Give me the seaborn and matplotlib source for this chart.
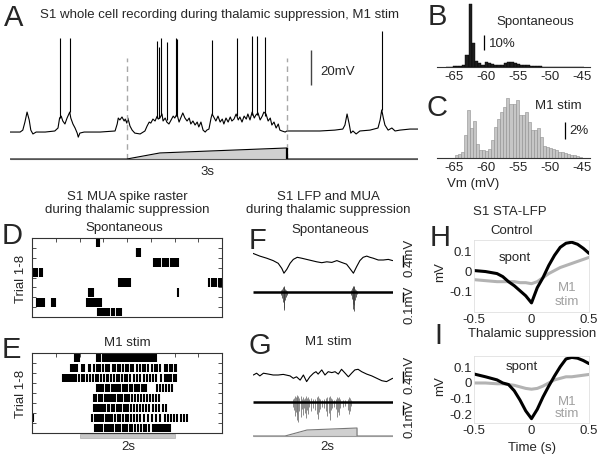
import numpy as np
import pandas as pd
import matplotlib
matplotlib.use("Agg")
import matplotlib.pyplot as plt
import seaborn as sns

# ---------------- DATA ----------------
# Panel A: whole-cell membrane potential (time in s, Vm in mV)
a_time = [0.00, 0.19, 0.24, 0.28, 0.32, 0.36, 0.39, 0.43, 0.49, 0.66,
          0.84, 0.90, 0.93, 0.96, 0.99, 1.03, 1.07, 1.12, 1.14, 1.18,
          1.22, 1.26, 1.28, 1.31, 1.39, 1.69, 1.97, 2.01, 2.03, 2.06,
          2.10, 2.14, 2.16, 2.19, 2.21, 2.25, 2.29, 2.34, 2.44, 2.53,
          2.57, 2.61, 2.64, 2.68, 2.72, 2.76, 2.78, 2.81, 2.85, 2.87,
          2.91, 2.94, 2.98, 3.02, 3.06, 3.09, 3.13, 3.17, 3.21, 3.24,
          3.28, 3.32, 3.36, 3.39, 3.43, 3.47, 3.51, 3.54, 3.58, 3.62,
          3.66, 3.69, 3.73, 3.77, 3.79, 3.83, 3.86, 3.90, 3.94, 3.98,
          4.01, 4.05, 4.09, 4.13, 4.16, 4.20, 4.24, 4.28, 4.31, 4.35,
          4.39, 4.43, 4.46, 4.50, 4.54, 4.58, 4.61, 4.65, 4.69, 4.73,
          4.76, 4.80, 4.84, 4.88, 4.91, 4.95, 4.99, 5.03, 5.06, 5.10,
          5.16, 5.19,
          5.44, 5.81, 6.09, 6.24, 6.28, 6.32, 6.36, 6.39, 6.43, 6.49,
          6.56, 6.75, 6.90, 6.94, 6.97, 7.00, 7.03, 7.09, 7.16, 7.22,
          7.31, 7.50, 7.65]
a_vm = [-65.0, -65.0, -63.9, -59.3, -53.6, -58.1, -63.9, -66.1, -65.0, -65.0,
        -64.4, -62.7, -57.0, -55.9, -58.7, -60.4, -57.0, -53.6, -57.0, -60.4,
        -62.7, -65.6, -67.9, -65.6, -65.0, -65.0, -64.4, -60.4, -57.0, -58.1,
        -56.4, -58.7, -57.6, -59.9, -57.0, -61.6, -63.9, -65.6, -66.1, -64.4,
        -61.6, -59.3, -59.9, -57.6, -58.7, -55.9, -57.6, -57.0, -54.7, -58.7,
        -57.0, -59.3, -60.4, -58.1, -55.9, -57.0, -54.7, -59.3, -56.4, -54.1,
        -57.0, -58.7, -57.0, -60.4, -58.7, -61.0, -59.3, -62.1, -59.3, -63.9,
        -65.0, -63.9, -63.3, -57.0, -54.7, -57.0, -58.7, -55.9, -59.3, -57.6,
        -60.4, -57.0, -59.3, -56.4, -58.7, -57.6, -54.7, -58.1, -56.4, -59.3,
        -55.9, -57.6, -54.7, -58.1, -53.6, -57.0, -55.3, -54.1, -58.1, -55.9,
        -53.6, -54.7, -58.7, -57.0, -61.0, -59.3, -62.7, -60.4, -63.9, -64.4,
        -65.0, -64.4,
        -64.4, -64.4, -63.9, -63.3, -61.0, -54.7, -60.4, -65.6, -64.4, -66.1,
        -64.4, -63.9, -62.7, -58.1, -52.4, -57.0, -61.0, -63.9, -62.7, -64.4,
        -63.9, -63.3, -63.3]
spike_time = [0.93, 1.12, 2.75, 2.80, 2.84, 2.95, 3.11, 3.14, 3.79, 4.25, 4.53, 4.64, 4.78, 6.97]
spike_base = [-57.0, -53.6, -57.0, -57.0, -55.0, -58.0, -56.0, -56.0, -54.7, -56.0, -55.0, -55.0, -56.0, -52.4]
spike_peak = [-11.3, -11.3, -13.0, -16.5, -11.3, -13.6, -11.3, -11.9, -12.5, -11.3, -10.2, -10.2, -10.7, -7.3]
a_stim_time = [0.0, 2.19, 2.81, 5.19, 5.19, 7.65]
a_stim_level = [0.0, 0.0, 0.55, 1.0, 0.0, 0.0]
a_stim_edges = [2.19, 5.19]

# Panel B/C: Vm distributions (% of time)
b_percent = [0.0, 0.3, 0.4, 0.5, 0.8, 1.5, 8.0, 42.0, 16.0, 4.0,
             2.5, 1.5, 3.0, 2.5, 2.0, 1.5, 1.2, 1.5, 2.5, 3.0,
             3.0, 2.5, 2.0, 1.5, 1.2, 1.0, 0.8, 0.6, 0.5, 0.4,
             0.3, 0.2, 0.2, 0.2, 0.1, 0.1, 0.1, 0.1, 0.1, 0.1,
             0.1, 0.1, 0.1]
c_percent = [0.3, 0.5, 0.7, 2.7, 5.6, 3.5, 4.4, 1.7, 0.9, 0.9,
             0.8, 1.1, 2.1, 3.6, 4.6, 5.4, 6.0, 7.1, 6.4, 6.4,
             6.8, 5.0, 5.1, 5.4, 4.2, 3.3, 3.3, 3.5, 2.5, 1.4,
             1.3, 1.2, 1.1, 0.9, 0.7, 0.7, 0.6, 0.5, 0.4, 0.3,
             0.25, 0.15]
vm_ticks = [-65, -60, -55, -50, -45]

# Panel D/E: MUA spike raster (s), one list per trial
d_trials = [
    [1.36, 1.38, 1.40],
    [2.20, 2.22, 2.25, 2.27],
    [2.56, 2.60, 2.65, 2.69, 2.75, 2.78, 2.82, 2.86, 2.92, 2.96, 3.00, 3.04, 3.07],
    [0.02, 0.06, 0.11, 0.16, 0.21],
    [1.84, 1.87, 1.90, 1.93, 1.95, 1.97, 2.00, 2.03, 2.06, 3.73, 3.78, 3.83, 3.88, 3.93, 3.97],
    [1.19, 1.22, 1.25, 1.28, 3.08],
    [0.10, 0.13, 0.16, 0.19, 0.22, 0.25, 0.42, 0.45, 0.48, 1.16, 1.19, 1.23, 1.27,
     1.30, 1.34, 1.38, 1.42, 1.46],
    [1.38, 1.41, 1.44, 1.47, 1.50, 1.53, 1.58, 1.63, 1.68, 1.73, 1.78, 1.83, 1.87],
]
e_trials = [
    [0.91, 0.95, 0.99, 1.36, 1.38, 1.41, 1.44, 1.49, 1.53, 1.56, 1.60, 1.64, 1.68, 1.71,
     1.75, 1.79, 1.83, 1.87, 1.92, 1.96, 2.00, 2.04, 2.08, 2.12, 2.16, 2.20, 2.24, 2.28,
     2.32, 2.36, 2.40, 2.44, 2.48, 2.52, 2.56, 2.60],
    [0.82, 0.86, 0.90, 0.95, 1.06, 1.10, 1.19, 1.23, 1.30, 1.37, 1.40, 1.44, 1.50, 1.55,
     1.58, 1.63, 1.70, 1.74, 1.81, 1.85, 1.91, 1.97, 2.02, 2.09, 2.13, 2.20, 2.27, 2.33,
     2.38, 2.45, 2.52, 2.58, 2.64, 2.70, 2.80, 2.85, 2.90, 2.95, 3.01, 3.04],
    [0.66, 0.70, 0.74, 0.78, 0.81, 0.85, 0.88, 0.93, 0.99, 1.05, 1.10, 1.15, 1.22, 1.29,
     1.35, 1.39, 1.45, 1.52, 1.57, 1.61, 1.66, 1.72, 1.78, 1.84, 1.90, 1.95, 2.01, 2.07,
     2.14, 2.20, 2.28, 2.35, 2.42, 2.48, 2.55, 2.62, 2.72, 2.80, 2.84, 2.88, 2.93, 2.98, 3.03],
    [1.36, 1.39, 1.42, 1.46, 1.50, 1.55, 1.59, 1.63, 1.68, 1.72, 1.77, 1.82, 1.86, 1.91,
     1.96, 2.01, 2.06, 2.11, 2.16, 2.21, 2.26, 2.31, 2.36, 2.41, 2.63, 2.70, 2.76, 2.82,
     2.88, 2.94],
    [1.31, 1.35, 1.40, 1.44, 1.48, 1.53, 1.57, 1.62, 1.66, 1.71, 1.75, 1.80, 1.85, 1.90,
     1.95, 2.00, 2.05, 2.11, 2.17, 2.23, 2.29, 2.35, 2.42, 2.48, 2.55, 2.62, 2.68],
    [1.31, 1.35, 1.38, 1.42, 1.46, 1.50, 1.54, 1.59, 1.63, 1.68, 1.73, 1.78, 1.83, 1.88,
     1.93, 1.98, 2.03, 2.09, 2.15, 2.21, 2.27, 2.33, 2.40, 2.47, 2.54, 2.61, 2.68, 2.75, 2.82],
    [0.03, 1.27, 1.32, 1.36, 1.40, 1.45, 1.50, 1.55, 1.59, 1.64, 1.69, 1.74, 1.80, 1.85,
     1.91, 1.97, 2.03, 2.09, 2.15, 2.22, 2.28, 2.36, 2.44, 2.52, 2.60, 2.70, 2.80, 2.87,
     2.93, 2.99, 3.05, 3.13, 3.21, 3.26],
    [1.32, 1.36, 1.40, 1.44, 1.48, 1.53, 1.57, 1.62, 1.67, 1.71, 1.76, 1.81, 1.86, 1.91,
     1.96, 2.01, 2.06, 2.11, 2.17, 2.23, 2.29, 2.35, 2.41, 2.47, 2.55, 2.58, 2.61, 2.64,
     2.67, 2.70, 2.73, 2.76, 2.79, 2.82, 2.86, 2.91],
]
e_stim = [1.0, 3.0]

# Panel F/G: LFP (mV) and MUA (mV)
f_lfp_time = [0.0, 0.19, 0.38, 0.56, 0.70, 0.80, 0.86, 0.94, 1.03, 1.12,
              1.23, 1.35, 1.49, 1.63, 1.77, 1.91, 2.05, 2.19, 2.33, 2.46,
              2.60, 2.69, 2.79, 2.88, 2.97, 3.06, 3.16, 3.25, 3.34, 3.48,
              3.62, 3.76, 3.88]
f_lfp_mv = [0.22, 0.13, 0.06, -0.02, -0.11, -0.28, -0.44, -0.31, -0.11, 0.02,
            0.09, 0.06, 0.02, -0.02, -0.06, -0.09, -0.06, -0.08, -0.02, -0.08,
            -0.14, -0.28, -0.44, -0.22, -0.02, 0.09, 0.13, 0.09, 0.06, 0.0,
            0.0, 0.02, -0.02]
f_mua_time = [0.78, 0.81, 0.83, 0.85, 0.86, 0.87, 0.89, 0.91, 0.94,
              2.72, 2.75, 2.77, 2.79, 2.80, 2.81, 2.83, 2.85, 2.88]
f_mua_low = [-0.03, -0.06, -0.10, -0.16, -0.18, -0.12, -0.08, -0.05, -0.03,
             -0.03, -0.07, -0.12, -0.17, -0.19, -0.13, -0.08, -0.05, -0.02]
f_mua_high = [0.02, 0.03, 0.05, 0.06, 0.05, 0.04, 0.03, 0.02, 0.01,
              0.02, 0.04, 0.05, 0.06, 0.06, 0.05, 0.03, 0.02, 0.01]
g_lfp_time = [0.01, 0.10, 0.19, 0.29, 0.43, 0.56, 0.70, 0.84, 1.03, 1.12,
              1.21, 1.31, 1.40, 1.49, 1.58, 1.68, 1.75, 1.81, 1.91, 2.00,
              2.09, 2.19, 2.28, 2.37, 2.46, 2.56, 2.65, 2.74, 2.83, 2.92,
              3.02, 3.16, 3.30, 3.44, 3.58, 3.71, 3.88]
g_lfp_mv = [0.0, 0.06, -0.03, 0.06, 0.03, 0.0, 0.0, 0.02, -0.03, -0.11,
            -0.06, -0.17, 0.0, -0.22, -0.06, 0.06, 0.11, 0.03, 0.17, 0.0,
            0.11, 0.08, 0.11, 0.03, 0.19, 0.06, -0.06, 0.06, 0.17, 0.19,
            0.11, 0.03, -0.03, -0.11, -0.19, -0.22, -0.11]
g_mua_time = [1.10, 1.14, 1.17, 1.19, 1.21, 1.23, 1.26, 1.29, 1.32, 1.35,
              1.38, 1.41, 1.44, 1.47, 1.50, 1.53, 1.56, 1.60, 1.66, 1.72,
              1.77, 1.80, 1.83, 1.86, 1.92, 1.98, 2.04, 2.07, 2.10, 2.13,
              2.16, 2.19, 2.25, 2.31, 2.34, 2.37, 2.40, 2.43, 2.50, 2.57,
              2.63, 2.66, 2.69, 2.72]
g_mua_low = [-0.05, -0.08, -0.14, -0.10, -0.18, -0.12, -0.20, -0.09, -0.15, -0.07,
             -0.13, -0.06, -0.11, -0.16, -0.08, -0.12, -0.05, -0.09, -0.06, -0.08,
             -0.12, -0.17, -0.10, -0.07, -0.05, -0.06, -0.09, -0.14, -0.11, -0.18,
             -0.08, -0.06, -0.05, -0.07, -0.15, -0.10, -0.13, -0.06, -0.05, -0.04,
             -0.08, -0.12, -0.09, -0.04]
g_mua_high = [0.03, 0.04, 0.06, 0.05, 0.07, 0.05, 0.06, 0.04, 0.06, 0.03,
              0.05, 0.03, 0.04, 0.06, 0.04, 0.05, 0.03, 0.04, 0.03, 0.03,
              0.05, 0.06, 0.04, 0.03, 0.02, 0.03, 0.04, 0.05, 0.05, 0.06,
              0.04, 0.03, 0.02, 0.03, 0.05, 0.04, 0.05, 0.03, 0.02, 0.02,
              0.03, 0.05, 0.04, 0.02]
g_stim_time = [0.0, 0.89, 1.5, 2.89, 2.89, 3.89]
g_stim_level = [0.0, 0.0, 0.75, 1.0, 0.0, 0.0]

# Panel H/I: spike-triggered average LFP (mV)
sta_time = [-0.5, -0.4, -0.3, -0.25, -0.2, -0.15, -0.1, -0.05, 0.0, 0.05,
            0.1, 0.15, 0.2, 0.25, 0.3, 0.35, 0.4, 0.45, 0.5]
h_spont = [0.005, 0.0, -0.01, -0.025, -0.05, -0.07, -0.095, -0.12, -0.155, -0.08,
           -0.03, 0.03, 0.08, 0.12, 0.14, 0.145, 0.135, 0.115, 0.09]
h_m1 = [-0.04, -0.045, -0.05, -0.05, -0.05, -0.05, -0.055, -0.055, -0.06, -0.05,
        -0.03, -0.01, 0.005, 0.02, 0.03, 0.04, 0.05, 0.06, 0.07]
i_spont = [0.058, 0.04, 0.02, 0.0, -0.01, -0.05, -0.11, -0.18, -0.23, -0.17,
           -0.09, -0.02, 0.045, 0.105, 0.155, 0.165, 0.16, 0.145, 0.125]
i_m1 = [0.0, 0.0, -0.005, -0.005, -0.01, -0.015, -0.025, -0.035, -0.04, -0.035,
        -0.02, 0.0, 0.02, 0.03, 0.04, 0.04, 0.045, 0.05, 0.055]

# ---------------- STYLE / LAYOUT ----------------
sns.set_theme(style="white")
plt.rcParams["font.family"] = ["Liberation Sans", "DejaVu Sans"]
plt.rcParams["axes.unicode_minus"] = False

W, H = 600, 458
fig = plt.figure(figsize=(6.0, 4.58), dpi=100)
FS = 9.5
LET = 21
GREY = "#b3b3b3"


def rect(x0, y0, x1, y1):
    return [x0 / W, 1 - y1 / H, (x1 - x0) / W, (y1 - y0) / H]


def ftext(x, y, s, size=FS, ha="center", va="center", **kw):
    fig.text(x / W, 1 - y / H, s, fontsize=size, ha=ha, va=va, **kw)


def letter(x, y, s):
    ftext(x, y, s, size=LET, ha="left", va="top")


# ---------- Panel A ----------
axA = fig.add_axes(rect(10, 28, 418, 145))
sns.lineplot(x=a_time, y=a_vm, ax=axA, color="black", lw=0.8,
             estimator=None, sort=False)
axA.vlines(spike_time, spike_base, spike_peak, color="black", lw=0.8)
axA.vlines(a_stim_edges, -80.4, -22.7, colors="#a8a8a8", linestyles=(0, (4, 3)),
           lw=1.0, clip_on=False)
axA.vlines([5.64], -38, -18, color="#444444", lw=1.0)
axA.text(5.81, -30.5, "20mV", fontsize=FS, ha="left", va="center")
axA.set_xlim(0, 7.65)
axA.set_ylim(-72.4, -5.6)
axA.axis("off")

axAs = fig.add_axes(rect(10, 145, 418, 162))
axAs.fill_between(a_stim_time, 0, a_stim_level, color="#d0d0d0", lw=0)
sns.lineplot(x=a_stim_time, y=a_stim_level, ax=axAs, color="black", lw=0.8,
             estimator=None, sort=False)
axAs.vlines([a_stim_edges[1]], 0, 1.0, color="black", lw=1.6)
axAs.hlines(0, 0, 7.65, color="#555555", lw=0.8)
axAs.set_xlim(0, 7.65)
axAs.set_ylim(-0.27, 1.27)
axAs.axis("off")

letter(4, 4, "A")
ftext(40, 15, "S1 whole cell recording during thalamic suppression, M1 stim", ha="left")
ftext(207, 172, "3s")

# ---------- Panels B / C ----------
def vm_axis(ax):
    ax.set_xlim(-67.7, -43.8)
    ax.set_xticks(vm_ticks)
    ax.set_xticklabels([str(v) for v in vm_ticks])
    ax.set_yticks([])
    ax.set_xlabel("")
    ax.set_ylabel("")
    for s in ("top", "right", "left"):
        ax.spines[s].set_visible(False)
    ax.spines["bottom"].set_color("#333333")
    ax.spines["bottom"].set_linewidth(0.8)
    ax.tick_params(axis="x", length=0, pad=3, labelsize=FS)
    ax.set_facecolor("none")


def vm_hist(ax, edges, pct, color, edge, lw):
    edges = [float(e) for e in edges]
    centers = [(edges[k] + edges[k + 1]) / 2 for k in range(len(pct))]
    df = pd.DataFrame({"vm": centers, "pct": pct})
    sns.histplot(data=df, x="vm", weights="pct", bins=edges, ax=ax,
                 color=color, edgecolor=edge, linewidth=lw, alpha=1)


axB = fig.add_axes(rect(437, 2, 590, 67))
vm_hist(axB, np.arange(-66.25, -44.7, 0.5), b_percent, "#1e1e1e", "#000000", 0.3)
axB.set_ylim(0, 43.3)
vm_axis(axB)
axB.vlines([-60.3], 11.3, 21.3, color="black", lw=0.9)
axB.text(-59.6, 15.5, "10%", fontsize=FS, ha="left", va="center")
letter(428, 3, "B")
ftext(535, 22, "Spontaneous")

axC = fig.add_axes(rect(437, 95, 590, 158))
vm_hist(axC, np.linspace(-64.835, -64.835 + 0.47 * len(c_percent), len(c_percent) + 1),
        c_percent, "#c6c6c6", "#8e8e8e", 0.4)
axC.set_ylim(0, 7.4)
vm_axis(axC)
axC.vlines([-47.7], 2.2, 4.2, color="black", lw=0.9)
axC.text(-47.0, 3.2, "2%", fontsize=FS, ha="left", va="center")
letter(427, 94, "C")
ftext(558, 106, "M1 stim")
ftext(447, 184, "Vm (mV)", ha="left")

# ---------- Panels D / E ----------
def raster(ax, trials):
    for i, row in enumerate(trials):
        ax.vlines(row, i + 0.06, i + 0.94, color="black", lw=1.5)
    ax.set_xlim(0, 4)
    ax.set_ylim(8, 0)
    ax.set_yticks(range(1, 8))
    ax.set_xticks([0.5, 1.0, 1.5, 2.0, 2.5, 3.0, 3.5])
    ax.tick_params(direction="in", length=3, width=0.6, left=True, right=True,
                   top=True, bottom=False, labelleft=False, labelbottom=False,
                   color="#333333")
    for s in ax.spines.values():
        s.set_visible(True)
        s.set_color("#333333")
        s.set_linewidth(0.8)


axD = fig.add_axes(rect(32, 238, 222, 317))
raster(axD, d_trials)
axE = fig.add_axes(rect(32, 353, 222, 433))
raster(axE, e_trials)
axE.fill_between(e_stim, 8.12, 8.5, color="#c8c8c8", lw=0.4, edgecolor="#a0a0a0",
                 clip_on=False)

ftext(127, 197, "S1 MUA spike raster")
ftext(127, 210, "during thalamic suppression")
letter(2, 222, "D")
ftext(124, 228, "Spontaneous")
letter(2, 336, "E")
ftext(127, 343, "M1 stim")
ftext(21, 279, "Trial 1-8", rotation=90)
ftext(21, 394, "Trial 1-8", rotation=90)
ftext(128, 447, "2s")

# ---------- Panels F / G ----------
def lfp_axes(r, t, v, ylim):
    ax = fig.add_axes(rect(*r))
    sns.lineplot(x=t, y=v, ax=ax, color="black", lw=0.8, estimator=None, sort=False)
    ax.set_xlim(0, 3.89)
    ax.set_ylim(*ylim)
    ax.axis("off")
    return ax


def mua_axes(r, t, lo, hi, ylim, col):
    ax = fig.add_axes(rect(*r))
    ax.vlines(t, lo, hi, color=col, lw=0.6)
    ax.hlines(0, 0, 3.89, color="black", lw=1.8)
    ax.set_xlim(0, 3.89)
    ax.set_ylim(*ylim)
    ax.axis("off")
    return ax


def scalebar(ax, y0, y1, ytext, label):
    ax.vlines([4.17], y0, y1, color="black", lw=1.0, clip_on=False)
    ax.text(4.35, ytext, label, rotation=90, fontsize=9.5, ha="center", va="center",
            clip_on=False)


axFl = lfp_axes((253, 248, 393, 278), f_lfp_time, f_lfp_mv, (-0.6, 0.4))
scalebar(axFl, -0.23, 0.17, 0.07, "0.4mV")
axFm = mua_axes((253, 280, 393, 315), f_mua_time, f_mua_low, f_mua_high,
                (-0.23, 0.12), "#444444")
scalebar(axFm, -0.10, 0.0, -0.13, "0.1mV")

axGl = lfp_axes((253, 360, 393, 390), g_lfp_time, g_lfp_mv, (-0.5, 0.5))
scalebar(axGl, -0.25, 0.15, 0.0, "0.4mV")
axGm = mua_axes((253, 392, 393, 425), g_mua_time, g_mua_low, g_mua_high,
                (-0.23, 0.10), "#777777")
scalebar(axGm, -0.13, -0.03, -0.17, "0.1mV")

axGs = fig.add_axes(rect(253, 424, 393, 440))
axGs.fill_between(g_stim_time, 0, g_stim_level, color="#d0d0d0", lw=0)
sns.lineplot(x=g_stim_time, y=g_stim_level, ax=axGs, color="#777777", lw=0.8,
             estimator=None, sort=False)
axGs.hlines(0, 0, 3.89, color="#999999", lw=0.8)
axGs.set_xlim(0, 3.89)
axGs.set_ylim(-0.5, 1.5)
axGs.axis("off")

ftext(328, 197, "S1 LFP and MUA")
ftext(328, 210, "during thalamic suppression")
letter(249, 227, "F")
ftext(330, 230, "Spontaneous")
letter(249, 332, "G")
ftext(328, 342, "M1 stim")
ftext(327, 447, "2s")

# ---------- Panels H / I ----------
def sta_axes(r, spont, m1, ylim, yticks, ylabels):
    ax = fig.add_axes(rect(*r))
    df = pd.DataFrame({
        "time": sta_time * 2,
        "mV": list(spont) + list(m1),
        "cond": ["spont"] * len(sta_time) + ["M1 stim"] * len(sta_time),
    })
    sns.lineplot(data=df, x="time", y="mV", hue="cond", ax=ax,
                 palette={"spont": "black", "M1 stim": GREY},
                 hue_order=["M1 stim", "spont"], lw=2.2, legend=False,
                 estimator=None, sort=False)
    ax.set_xlim(-0.5, 0.5)
    ax.set_ylim(*ylim)
    ax.set_xticks([-0.5, 0, 0.5])
    ax.set_xticklabels(["-0.5", "0", "0.5"])
    ax.set_yticks(yticks)
    ax.set_yticklabels(ylabels)
    ax.set_xlabel("")
    ax.set_ylabel("")
    ax.tick_params(length=0, labelsize=9.5, pad=1.5)
    for s in ax.spines.values():
        s.set_visible(True)
        s.set_color("#e0e0e0")
        s.set_linewidth(0.6)
    ax.set_facecolor("none")
    return ax


axH = sta_axes((474, 240, 589, 312), h_spont, h_m1, (-0.2, 0.156),
               [-0.1, 0, 0.1], ["-0.1", "0", "0.1"])
axI = sta_axes((474, 356, 589, 423), i_spont, i_m1, (-0.258, 0.174),
               [-0.2, -0.1, 0, 0.1], ["-0.2", "-0.1", "0", "0.1"])

ftext(510, 212, "S1 STA-LFP")
letter(430, 224, "H")
ftext(512, 231, "Control")
ftext(515, 258, "spont")
ftext(567, 288, "M1", color="#a0a0a0")
ftext(567, 302, "stim", color="#a0a0a0")
ftext(440, 272, "mV", rotation=90)
letter(434, 322, "I")
ftext(532, 334, "Thalamic suppression")
ftext(522, 367, "spont")
ftext(567, 402, "M1", color="#a0a0a0")
ftext(567, 414, "stim", color="#a0a0a0")
ftext(440, 386, "mV", rotation=90)
ftext(532, 448, "Time (s)")

fig.savefig("out.png", dpi=100)
